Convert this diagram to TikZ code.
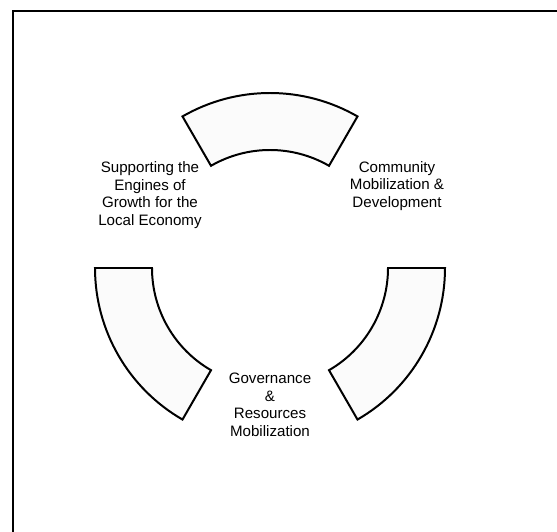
\documentclass[tikz,border=0pt]{standalone}
\usepackage{fontspec}
\setmainfont{Liberation Sans}
\tikzstyle{sector}=[
        draw = black,
        line width = 1.7pt,
        fill = gray!3,
        line join = miter
    ]
\tikzstyle{caption}=[
        align = center,
        inner sep = 0pt,
        font = \fontsize{12.9}{15}\selectfont
    ]

\begin{document}
\begin{tikzpicture}[x=0.03cm, y=0.03cm]
        \useasboundingbox (0,0) rectangle (557,532);
        \draw[line width=1.7pt] (13,-10) rectangle (558,521);

        \coordinate (hub) at (270,264);

        % three ring pieces, 60 degrees each
        \draw[sector] ([shift={(hub)}]60:175) arc (60:120:175) -- ([shift={(hub)}]120:118) arc (120:60:118) -- cycle;
        \draw[sector] ([shift={(hub)}]180:175) arc (180:240:175) -- ([shift={(hub)}]240:118) arc (240:180:118) -- cycle;
        \draw[sector] ([shift={(hub)}]300:175) arc (300:360:175) -- ([shift={(hub)}]0:118) arc (360:300:118) -- cycle;

        \node[caption] (growth) at (150,337) {Supporting the\\Engines of\\Growth for the\\Local Economy};
        \node[caption] (community) at (397,346) {Community\\Mobilization \&\\Development};
        \node[caption] (governance) at (270,127) {Governance\\\&\\Resources\\Mobilization};
    \end{tikzpicture}
\end{document}
